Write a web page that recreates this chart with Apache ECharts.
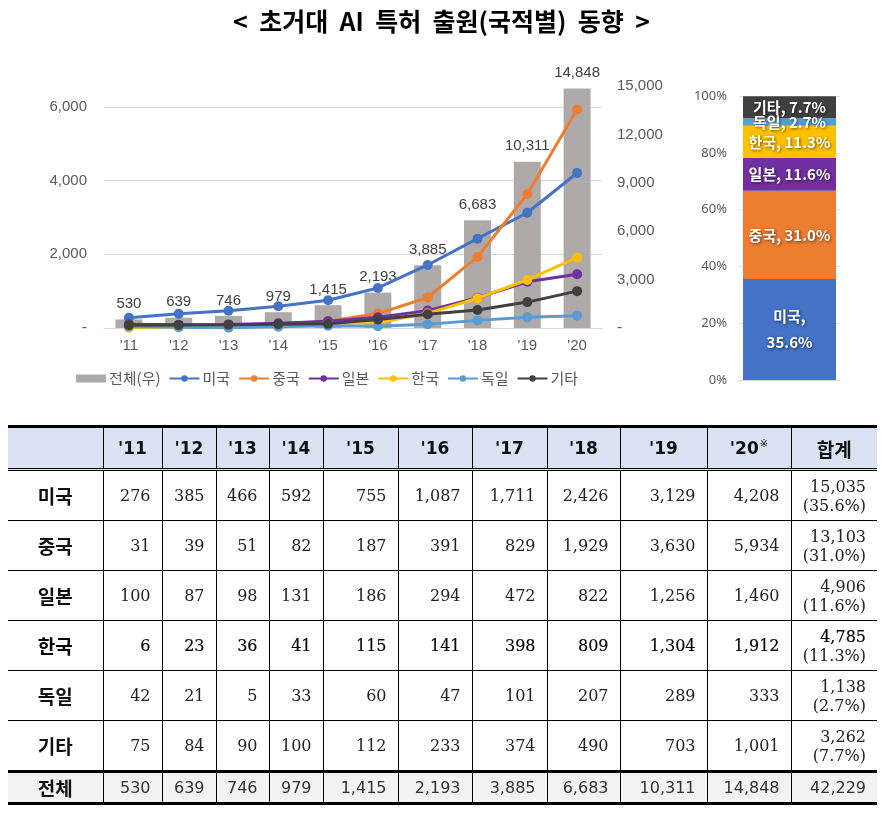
<!DOCTYPE html>
<html>
<head>
<meta charset="utf-8">
<script src="https://cdn.jsdelivr.net/npm/echarts@6/dist/echarts.min.js"></script>
<style>
  html, body { margin: 0; padding: 0; background: #fff; }
  #chart { position: absolute; left: 0; top: 0; width: 883px; height: 813px; }
  #tbl { position: absolute; left: 8px; top: 425px; width: 869px; border-collapse: collapse; table-layout: fixed; }
  #tbl td, #tbl th { border: 1px solid #000; padding: 0; }
  #tbl tr td:first-child, #tbl tr th:first-child { border-left: none; }
  #tbl tr td:last-child, #tbl tr th:last-child { border-right: none; }
  #tbl thead th { background: #dae3f3; height: 40px; font-family: "DejaVu Sans", "Noto Sans CJK KR", sans-serif; font-weight: bold; font-size: 17px; color: #111; border-top: 3px solid #000; border-bottom: 3px double #000; text-align: center; }
  #tbl thead th.kr { font-family: "Noto Sans CJK KR", sans-serif; font-size: 19px; }
  #tbl thead th sup { font-size: 10px; font-weight: normal; vertical-align: 7px; margin-left: 1px; }
  #tbl tbody td { height: 49px; font-family: "DejaVu Serif", serif; font-size: 16px; color: #222; text-align: right; padding-right: 11px; }
  #tbl tbody td.rl { font-family: "Noto Sans CJK KR", sans-serif; font-weight: bold; font-size: 19px; color: #111; text-align: center; padding-right: 0; }
  #tbl tbody td.sum { line-height: 19px; font-size: 16px; }
  #tbl tbody tr.bold td { color: #000; -webkit-text-stroke: 0.15px #000; }
  #tbl tbody tr.bold td.rl { -webkit-text-stroke: 0; }
  #tbl tbody tr.bold td.sum span { -webkit-text-stroke: 0; color: #222; }
  #tbl tbody tr.total td { background: #f2f2f2; height: 29px; border-top: 3px solid #000; border-bottom: 3px solid #000; font-family: "DejaVu Sans", sans-serif; color: #333; }
  #tbl tbody tr.total td.rl { font-family: "Noto Sans CJK KR", sans-serif; color: #111; }
</style>
</head>
<body>
<div id="chart"></div>
<table id="tbl"></table>
<script>
// ---- data ----
const years = ["'11", "'12", "'13", "'14", "'15", "'16", "'17", "'18", "'19", "'20"];
const countryNames = ['미국', '중국', '일본', '한국', '독일', '기타'];
const usa     = [276, 385, 466, 592, 755, 1087, 1711, 2426, 3129, 4208];
const china   = [31, 39, 51, 82, 187, 391, 829, 1929, 3630, 5934];
const japan   = [100, 87, 98, 131, 186, 294, 472, 822, 1256, 1460];
const korea   = [6, 23, 36, 41, 115, 141, 398, 809, 1304, 1912];
const germany = [42, 21, 5, 33, 60, 47, 101, 207, 289, 333];
const others  = [75, 84, 90, 100, 112, 233, 374, 490, 703, 1001];
const totals  = [530, 639, 746, 979, 1415, 2193, 3885, 6683, 10311, 14848];
const countrySums = [15035, 13103, 4906, 4785, 1138, 3262];
const sharePct = [35.6, 31.0, 11.6, 11.3, 2.7, 7.7];
const grandTotal = 42229;
const totalName = '전체(우)';
const sumHeader = '합계';
const totalRowName = '전체';

// ---- styles ----
const colors = ['#4472c4', '#ed7d31', '#7030a0', '#ffc000', '#5b9bd5', '#404040'];
const seriesData = [usa, china, japan, korea, germany, others];
const fmt = v => v === 0 ? '-' : v.toLocaleString('en-US');
const axisFont = { color: '#595959', fontSize: 15, fontFamily: 'Liberation Sans, Arial, sans-serif' };

const chart = echarts.init(document.getElementById('chart'), null, { renderer: 'canvas' });

const lineSeries = countryNames.map((n, i) => ({
  name: n, type: 'line', xAxisIndex: 0, yAxisIndex: 0,
  data: seriesData[i], symbol: 'circle', symbolSize: 10, showSymbol: true,
  lineStyle: { color: colors[i], width: 3 }, itemStyle: { color: colors[i] },
  z: 3 + i, animation: false
}));

const stackSeries = countryNames.map((n, i) => ({
  name: n + '_share', type: 'bar', xAxisIndex: 1, yAxisIndex: 2, stack: 'share',
  data: [sharePct[i]], barWidth: 93,
  itemStyle: { color: colors[i] },
  label: {
    show: true, position: 'inside',
    formatter: () => i === 0 ? n + ',\n' + sharePct[i].toFixed(1) + '%' : n + ', ' + sharePct[i].toFixed(1) + '%',
    color: '#fff', fontWeight: 'bold', fontSize: 15, lineHeight: 26,
    fontFamily: 'Noto Sans CJK KR, sans-serif',
    textShadowColor: 'rgba(0,0,0,0.6)', textShadowBlur: 3, textShadowOffsetX: 1, textShadowOffsetY: 1
  },
  animation: false
}));

const option = {
  backgroundColor: '#fff',
  animation: false,
  title: {
    text: '<  초거대  AI  특허  출원(국적별)  동향  >',
    left: 'center', top: 4,
    textStyle: { fontSize: 25, fontWeight: 'bold', color: '#000', fontFamily: 'Noto Sans CJK KR, sans-serif' }
  },
  legend: {
    left: 76, top: 371, itemWidth: 30, itemHeight: 8, itemGap: 8, padding: 0,
    textStyle: { fontSize: 15, color: '#595959', fontFamily: 'Noto Sans CJK KR, sans-serif', padding: [0, 0, 0, -2] },
    data: [{ name: totalName, icon: 'rect' }].concat(countryNames.map(n => ({ name: n })))
  },
  grid: [
    { left: 104, top: 86, width: 498, height: 242 },
    { left: 739, top: 96, width: 101, height: 284 }
  ],
  xAxis: [
    {
      type: 'category', gridIndex: 0, data: years,
      axisLine: { show: true, lineStyle: { color: '#d9d9d9', width: 1 } },
      axisTick: { show: false },
      axisLabel: Object.assign({ margin: 10 }, axisFont)
    },
    {
      type: 'category', gridIndex: 1, data: [sumHeader],
      axisLine: { show: true, lineStyle: { color: '#d9d9d9' } },
      axisTick: { show: false }, axisLabel: { show: false }
    }
  ],
  yAxis: [
    {
      type: 'value', gridIndex: 0, min: 0, max: 6570, interval: 2000,
      axisLine: { show: false }, axisTick: { show: false },
      axisLabel: Object.assign({ margin: 17, showMaxLabel: false, formatter: v => v % 2000 === 0 ? fmt(v) : '' }, axisFont),
      splitLine: { show: true, showMaxLine: false, lineStyle: { color: '#d9d9d9', width: 1 } }
    },
    {
      type: 'value', gridIndex: 0, position: 'right', min: 0, max: 15000, interval: 3000,
      axisLine: { show: false }, axisTick: { show: false },
      axisLabel: Object.assign({ margin: 15, formatter: fmt }, axisFont),
      splitLine: { show: false }
    },
    {
      type: 'value', gridIndex: 1, min: 0, max: 100, interval: 20,
      axisLine: { show: false }, axisTick: { show: false },
      axisLabel: { margin: 12, formatter: '{value}%', color: '#595959', fontSize: 13, fontFamily: 'Noto Sans, sans-serif' },
      splitLine: { show: true, lineStyle: { color: '#e3e3e3' } }
    }
  ],
  series: [
    {
      name: totalName, type: 'bar', xAxisIndex: 0, yAxisIndex: 1, data: totals,
      barWidth: 27, itemStyle: { color: '#aeaaaa' }, z: 1,
      label: { show: true, position: 'top', distance: 8, formatter: p => fmt(p.value), color: '#404040', fontSize: 15, fontFamily: 'Liberation Sans, Arial, sans-serif' }
    }
  ].concat(lineSeries, stackSeries)
};
chart.setOption(option);

// ---- table built from the same arrays ----
const tbl = document.getElementById('tbl');
const colWidths = [95, 59, 54, 53, 54, 75, 74, 75, 73, 87, 84, 86];
let html = '<colgroup>' + colWidths.map(w => '<col style="width:' + w + 'px">').join('') + '</colgroup>';
html += '<thead><tr><th></th>' + years.map((y, i) => '<th>' + y + (i === years.length - 1 ? '<sup>※</sup>' : '') + '</th>').join('') + '<th class="kr">' + sumHeader + '</th></tr></thead><tbody>';
countryNames.forEach((n, i) => {
  html += '<tr' + (n === '한국' ? ' class="bold"' : '') + '><td class="rl">' + n + '</td>' +
    seriesData[i].map(v => '<td>' + fmt(v) + '</td>').join('') +
    '<td class="sum">' + fmt(countrySums[i]) + '<br><span>(' + sharePct[i].toFixed(1) + '%)</span></td></tr>';
});
html += '<tr class="total"><td class="rl">' + totalRowName + '</td>' + totals.map(v => '<td>' + fmt(v) + '</td>').join('') + '<td>' + fmt(grandTotal) + '</td></tr>';
html += '</tbody>';
tbl.innerHTML = html;
</script>
</body>
</html>
